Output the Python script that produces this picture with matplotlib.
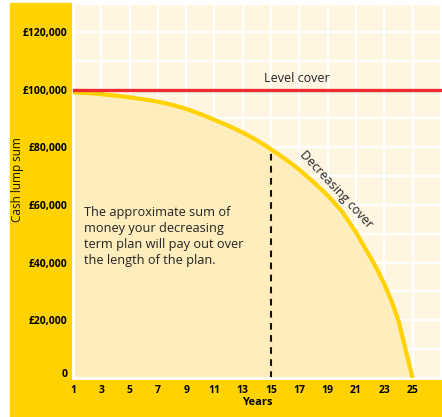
import matplotlib
matplotlib.use('Agg')
import matplotlib.pyplot as plt
from matplotlib.patches import Rectangle
from matplotlib.transforms import ScaledTranslation

plt.rcParams['font.family'] = ['Open Sans', 'DejaVu Sans']

YELLOW = '#FFD200'
CREAM = '#FFF5E1'
FILL = '#FFEEBD'
RED = '#EE2B2E'

# decreasing cover (yearly, plus a few points near the end)
years = [1, 2, 3, 4, 5, 6, 7, 8, 9, 10, 11, 12, 13, 14, 15, 16, 17, 18, 19,
         20, 21, 22, 22.5, 23, 23.5, 24, 24.5, 25]
decreasing = [99000, 98800, 98400, 97900, 97300, 96600, 95800, 94700, 93300,
              91500, 89500, 87400, 85100, 82400, 79300, 75900, 72200, 67900,
              63300, 57800, 50500, 42000, 37600, 32600, 26800, 20000, 10000, 0]
level_cover = 100000
marker_year = 15

y_ticks = [0, 20000, 40000, 60000, 80000, 100000, 120000]

fig = plt.figure(figsize=(4.42, 4.17), dpi=100, facecolor='white')
fig.patches.append(Rectangle((10 / 442, 0), 1, (417 - 3) / 417,
                             transform=fig.transFigure, color=YELLOW, zorder=-5))

ax = fig.add_axes([73 / 442, 39 / 417, 1 - 73 / 442, (378 - 3) / 417])
ax.set_zorder(2)
ax.set_facecolor(CREAM)
ax.set_xlim(1, 27.08)
ax.set_ylim(0, 130000)

ax.set_xticks(range(1, 28, 2))
ax.set_xticklabels([str(t) if t <= 25 else '' for t in range(1, 28, 2)])
ax.set_yticks(range(0, 130001, 10000))
ax.set_yticklabels([('0' if v == 0 else '£{:,}'.format(v)) if v in y_ticks else ''
                    for v in range(0, 130001, 10000)])
ax.tick_params(length=0, labelsize=7.5, pad=4)
ax.tick_params(axis='x', pad=5)
for lab in ax.get_xticklabels() + ax.get_yticklabels():
    lab.set_fontweight('bold')
# the "0" sits a little above the axis in the original
zero_lab = ax.get_yticklabels()[0]
zero_lab.set_transform(zero_lab.get_transform() +
                       ScaledTranslation(0, 5 / 100, fig.dpi_scale_trans))

ax.set_axisbelow(True)
ax.grid(True, color='white', lw=1.6)
for s in ax.spines.values():
    s.set_color('white')
    s.set_linewidth(2)

ax.fill_between(years, decreasing, 0, color=FILL, lw=0, zorder=1)
ax.plot(years, decreasing, color=YELLOW, lw=3, zorder=3,
        solid_joinstyle='round', solid_capstyle='butt')
ax.axhline(level_cover, color=RED, lw=2.4, zorder=4)

mv = decreasing[years.index(marker_year)]
ax.plot([marker_year, marker_year], [0, mv], color='#111111', lw=1.5,
        dashes=(3.2, 2.6), zorder=2)

ax.text(16.8, 104000, 'Level cover', fontsize=9, color='#222222',
        ha='center', va='center')
ax.text(19.6, 65500, 'Decreasing cover', fontsize=9, color='#222222',
        ha='center', va='center', rotation=-47, rotation_mode='anchor')
ax.text(1.8, 59500, 'The approximate sum of\nmoney your decreasing\n'
        'term plan will pay out over\nthe length of the plan.',
        fontsize=9.2, color='#222222', ha='left', va='top', linespacing=1.3)

ax.set_xlabel('Years', fontsize=8, fontweight='bold', labelpad=1)
fig.text(18 / 442, 1 - 180 / 417, 'Cash lump sum', rotation=90, fontsize=8.5,
         ha='center', va='center', color='#111111')

fig.savefig('out.png', dpi=100, facecolor='white')
